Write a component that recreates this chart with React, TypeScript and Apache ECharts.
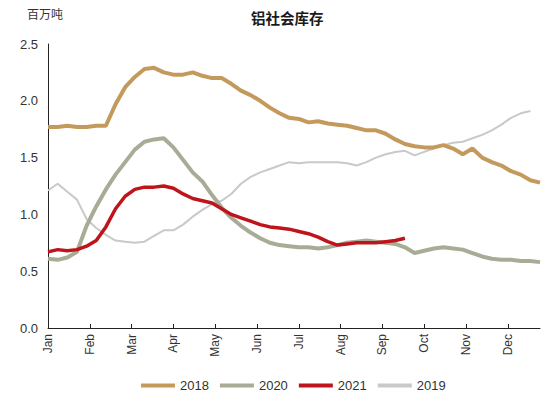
import React, { useEffect, useRef } from "react";
import * as echarts from "echarts";

const months = ["Jan", "Feb", "Mar", "Apr", "May", "Jun", "Jul", "Aug", "Sep", "Oct", "Nov", "Dec"];
const weeksPerYear = 52;

const s2018 = [1.77, 1.77, 1.78, 1.77, 1.77, 1.78, 1.78, 1.97, 2.12, 2.21, 2.28, 2.29, 2.25, 2.23, 2.23, 2.25, 2.22, 2.2, 2.2, 2.15, 2.09, 2.05, 2.0, 1.94, 1.89, 1.85, 1.84, 1.81, 1.82, 1.8, 1.79, 1.78, 1.76, 1.74, 1.74, 1.71, 1.66, 1.62, 1.6, 1.59, 1.59, 1.61, 1.58, 1.53, 1.58, 1.5, 1.46, 1.43, 1.38, 1.35, 1.3, 1.28];
const s2020 = [0.61, 0.6, 0.62, 0.67, 0.9, 1.07, 1.22, 1.35, 1.46, 1.57, 1.64, 1.66, 1.67, 1.59, 1.48, 1.37, 1.29, 1.17, 1.06, 0.97, 0.9, 0.84, 0.79, 0.75, 0.73, 0.72, 0.71, 0.71, 0.7, 0.71, 0.73, 0.75, 0.76, 0.77, 0.76, 0.75, 0.74, 0.71, 0.66, 0.68, 0.7, 0.71, 0.7, 0.69, 0.66, 0.63, 0.61, 0.6, 0.6, 0.59, 0.59, 0.58];
const s2021 = [0.67, 0.69, 0.68, 0.69, 0.72, 0.77, 0.89, 1.05, 1.16, 1.22, 1.24, 1.24, 1.25, 1.23, 1.18, 1.14, 1.12, 1.1, 1.05, 1.0, 0.97, 0.94, 0.91, 0.89, 0.88, 0.87, 0.85, 0.83, 0.8, 0.76, 0.73, 0.74, 0.75, 0.75, 0.75, 0.76, 0.77, 0.79];
const s2019 = [1.21, 1.27, 1.2, 1.13, 0.96, 0.88, 0.82, 0.77, 0.76, 0.75, 0.76, 0.81, 0.86, 0.86, 0.91, 0.98, 1.04, 1.09, 1.12, 1.18, 1.27, 1.33, 1.37, 1.4, 1.43, 1.46, 1.45, 1.46, 1.46, 1.46, 1.46, 1.45, 1.43, 1.46, 1.5, 1.53, 1.55, 1.56, 1.52, 1.55, 1.58, 1.61, 1.63, 1.64, 1.67, 1.7, 1.74, 1.79, 1.85, 1.89, 1.91];

const toPoints = (arr: number[]) => arr.map((v, i) => [(i * 12) / weeksPerYear, v]);

export default function App() {
  const ref = useRef<HTMLDivElement>(null);
  useEffect(() => {
    if (!ref.current) return;
    document.body.style.margin = "0";
    const chart = echarts.init(ref.current, null, { renderer: "svg" });
    const font = "'Liberation Sans', Arial, sans-serif";
    const cjk = "'Noto Sans CJK SC', sans-serif";
    const mk = (name: string, data: number[], color: string, width: number, z: number) => ({
      name,
      type: "line",
      data: toPoints(data),
      showSymbol: false,
      symbol: "none",
      z,
      lineStyle: { color, width },
      itemStyle: { color },
    });
    chart.setOption({
      animation: false,
      backgroundColor: "#ffffff",
      title: {
        text: "铝社会库存",
        left: 246,
        top: 5,
        textStyle: { fontSize: 14.5, fontWeight: "bold", color: "#1a1a1a", fontFamily: cjk },
      },
      graphic: [
        {
          type: "text",
          left: 27,
          top: 7,
          style: { text: "百万吨", fontSize: 12, fill: "#333", fontFamily: cjk },
        },
      ],
      legend: {
        top: 374,
        left: 136,
        itemWidth: 34,
        itemHeight: 4,
        itemGap: 11,
        icon: "rect",
        data: ["2018", "2020", "2021", "2019"],
        textStyle: { fontSize: 13, color: "#333", fontFamily: font },
      },
      grid: { left: 48, right: 10, top: 44, bottom: 70, containLabel: false },
      xAxis: {
        type: "value",
        min: 0,
        max: (51 * 12) / weeksPerYear,
        interval: 1,
        axisLine: { show: true, lineStyle: { color: "#222", width: 1 } },
        axisTick: { show: true, inside: true, length: 4, lineStyle: { color: "#222" } },
        splitLine: { show: false },
        axisLabel: {
          rotate: 90,
          fontSize: 12,
          color: "#333",
          fontFamily: font,
          margin: 6,
          showMaxLabel: false,
          formatter: (v: number) => (Number.isInteger(v) ? months[v] ?? "" : ""),
        },
      },
      yAxis: {
        type: "value",
        min: 0,
        max: 2.5,
        interval: 0.5,
        axisLine: { show: true, lineStyle: { color: "#222", width: 1 } },
        axisTick: { show: false },
        splitLine: { show: false },
        axisLabel: {
          fontSize: 13,
          color: "#333",
          fontFamily: font,
          margin: 10,
          formatter: (v: number) => v.toFixed(1),
        },
      },
      series: [
        mk("2018", s2018, "#C49A5C", 4, 4),
        mk("2020", s2020, "#A8AC96", 4, 3),
        mk("2021", s2021, "#C0141C", 3.5, 5),
        mk("2019", s2019, "#C9C9C9", 2, 2),
      ],
    });
    return () => chart.dispose();
  }, []);
  return <div ref={ref} style={{ width: 550, height: 398 }} />;
}
